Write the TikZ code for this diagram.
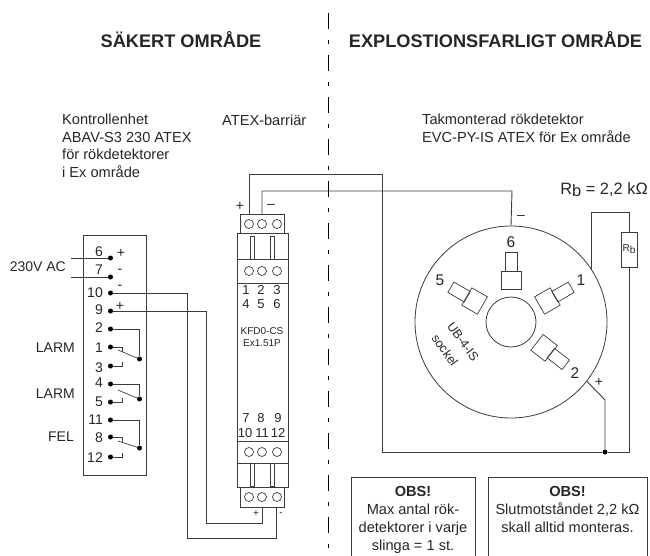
\documentclass[tikz,border=0pt]{standalone}
\usepackage{fontspec}
\setmainfont{Liberation Sans}
\usetikzlibrary{positioning,calc}
\definecolor{inkdark}{HTML}{262626}
\definecolor{wiregray}{HTML}{3C3C3C}
\newcommand{\fs}[1]{\fontsize{#1}{#1}\selectfont}
\tikzset{
    wire/.style={draw=wiregray, line width=0.9pt},
    thinwire/.style={draw=wiregray, line width=0.7pt},
    part/.style={draw=wiregray, line width=0.9pt, rectangle, inner sep=0pt, outer sep=0pt},
    term/.style={circle, fill=black, inner sep=0pt, minimum size=5pt},
    screw/.style={draw=wiregray, line width=0.7pt, circle, inner sep=0pt, minimum size=9pt},
    slot/.style={part, line width=0.7pt, minimum width=4pt, minimum height=23pt},
    txt/.style={text=inkdark, inner sep=0pt, font=\fs{14}},
    head/.style={text=inkdark, inner sep=0pt, font=\fs{18.2}\bfseries},
    small/.style={text=inkdark, inner sep=0pt, font=\fs{13}},
    block/.style={text=inkdark, inner sep=0pt, font=\fs{14.6}, align=left, anchor=west, execute at begin node={\baselineskip=17.8pt}},
    obsbox/.style={part, minimum height=100pt},
    obstext/.style={text=inkdark, inner sep=0pt, font=\fs{14.6}, align=center, execute at begin node={\baselineskip=18pt}},
}
\begin{document}
\begin{tikzpicture}[x=1pt, y=-1pt]

    \path[use as bounding box, clip] (0,0) rectangle (650,556);

    \node[head] (safeT) at (181,40) {SÄKERT OMRÅDE};
    \node[head] (exT) at (495.5,40) {EXPLOSTIONSFARLIGT OMRÅDE};

    \node[block, anchor=north west] (ctrlT) at (62,113.5) {Kontrollenhet\\ABAV-S3 230 ATEX\\för rökdetektorer\\i Ex område};
    \node[txt, font=\fs{14.6}, anchor=west] (barT) at (222,120) {ATEX-barriär};
    \node[block, anchor=north west] (detT) at (422,113.5) {Takmonterad rökdetektor\\EVC-PY-IS ATEX för Ex område};

    \coordinate (divA) at (328.5,13);
    \coordinate (divB) at (328.5,556);
    \draw[black, line width=1pt, dash pattern=on 16pt off 11pt on 4pt off 11pt] (divA) -- (divB);

    \node[part, minimum width=63pt, minimum height=240pt] (ctrl) at (114.5,355) {};

    \foreach \name/\ypos/\ylab in {6/258/252, 7/277/270, 10/293/293, 9/311/310, 2/329/328, 1/347/348,
        3/366/368, 4/384/383, 5/402/402, 11/420/420, 8/437/438, 12/457/458} {
        \node[term] (t\name) at (110.5,\ypos) {};
        \node[txt, anchor=east] (n\name) at (103,\ylab) {\name};
    }

    \node[txt] (s6) at (121,253) {+};
    \node[txt] (s7) at (120,271) {-};
    \node[txt] (s10) at (120,287) {-};
    \node[txt] (s9) at (120,306) {+};

    \node[txt, anchor=east] (acT) at (66,267) {230V AC};
    \node[txt, anchor=east] (larmA) at (75,348) {LARM};
    \node[txt, anchor=east] (larmB) at (75,394) {LARM};
    \node[txt, anchor=east] (felT) at (74,437) {FEL};

    \coordinate (in6) at (71,258);
    \coordinate (in7) at (71,277);
    \draw[wire] (in6) -- (t6);
    \draw[wire] (in7) -- (t7);

    \node[term] (ra) at (139.5,359) {};
    \node[term] (rb) at (139.5,399) {};
    \node[term] (rc) at (139.5,448) {};
    \coordinate (armA) at (118,350);
    \coordinate (armB) at (118,390);
    \coordinate (armC) at (118,441);
    \coordinate (k1) at (122,352);
    \coordinate (k3) at (122,362);
    \coordinate (k5) at (122,398);
    \coordinate (k8) at (122,443);
    \coordinate (k12) at (122,453);

    \draw[wire] (t2) -| (ra);
    \draw[wire] (t4) -| (rb);
    \draw[wire] (t11) -| (rc);
    \draw[thinwire] (armA) -- (ra);
    \draw[thinwire] (armB) -- (rb);
    \draw[thinwire] (armC) -- (rc);
    \draw[thinwire] (t1) -| (k1);
    \draw[thinwire] (t3) -| (k3);
    \draw[thinwire] (t5) -| (k5);
    \draw[thinwire] (t8) -| (k8);
    \draw[thinwire] (t12) -| (k12);

    \node[part, minimum width=51pt, minimum height=254pt] (bar) at (262.5,360) {};
    \node[part, minimum width=44pt, minimum height=19pt] (conT) at (262,223.5) {};
    \node[part, minimum width=44pt, minimum height=20pt] (conB) at (262,497) {};

    \foreach \name/\xpos in {a/249, b/262, c/277} {
        \node[screw] (ct\name) at (\xpos,224) {};
        \node[screw] (cu\name) at (\xpos,271) {};
        \node[screw] (cv\name) at (\xpos,452) {};
        \node[screw] (cw\name) at (\xpos,497) {};
    }
    \foreach \name/\xpos in {a/252, b/272} {
        \node[slot] (su\name) at (\xpos,247.5) {};
        \node[slot] (sv\name) at (\xpos,474.5) {};
    }

    \coordinate (lineA) at (237,259);
    \coordinate (lineB) at (237,283);
    \coordinate (lineC) at (237,441);
    \coordinate (lineD) at (237,463);
    \draw[wire] (lineA) -- (lineA -| bar.east);
    \draw[wire] (lineB) -- (lineB -| bar.east);
    \draw[wire] (lineC) -- (lineC -| bar.east);
    \draw[wire] (lineD) -- (lineD -| bar.east);

    \foreach \lab/\xpos/\ypos in {1/246/290, 2/261/290, 3/277/290, 4/246/304, 5/261/304, 6/277/304,
        7/246/418, 8/261/418, 9/278/418, 10/245/433, 11/262/433, 12/278/433} {
        \node[small] (m\lab) at (\xpos,\ypos) {\lab};
    }
    \node[txt, font=\fs{10}, align=center, execute at begin node={\baselineskip=11.5pt}] (barN) at (262,337) {KFD0-CS\\Ex1.51P};

    \node[txt] (pT) at (240,206) {+};
    \node[txt] (mT) at (271,206) {--};
    \node[txt, font=\fs{10}] (pB) at (256,514) {+};
    \node[txt, font=\fs{10}] (mB) at (281,514) {-};

    \coordinate (tp) at (249,214);
    \coordinate (tm) at (262,214);
    \coordinate (bp) at (262,507);
    \coordinate (bm) at (276,507);
    \coordinate (w9) at (206,523);
    \coordinate (w10) at (187,538);
    \coordinate (wp) at (382,174);
    \coordinate (wm) at (512,191);

    \draw[wire] (t9) -| (w9) -| (bp);
    \draw[wire] (t10) -| (w10) -| (bm);

    \node[draw=wiregray, line width=0.8pt, circle, inner sep=0pt, minimum size=192pt] (det) at (511,322) {};
    \node[draw=wiregray, line width=0.8pt, circle, inner sep=0pt, minimum size=50pt] (hub) at (511,322) {};

    \foreach \ang in {90,30,150,-38} {
        \node[part, line width=0.7pt, minimum width=18pt, minimum height=20pt, rotate=\ang] (big\ang) at ($(det.center)+(\ang:42pt)$) {};
        \node[part, line width=0.7pt, minimum width=19pt, minimum height=12pt, rotate=\ang] (tip\ang) at ($(det.center)+(\ang:60pt)$) {};
    }

    \node[txt, font=\fs{15.5}] (p6) at (511,242) {6};
    \node[txt, font=\fs{15.5}] (p5) at (440,280) {5};
    \node[txt, font=\fs{15.5}] (p1) at (581,280) {1};
    \node[txt, font=\fs{15.5}] (p2) at (575,373) {2};
    \node[txt, font=\fs{12.5}, rotate=-54.5] (ubT) at (463,342) {UB-4-IS};
    \node[txt, font=\fs{12.5}, rotate=-54.5] (sockT) at (445,350) {sockel};

    \node[txt] (mD) at (521,217) {--};
    \node[txt] (pD) at (599,382) {+};

    \node[term] (jn) at (605,452) {};
    \node[part, minimum width=16pt, minimum height=35pt, line width=0.8pt] (rbox) at (629,249.5) {};
    \node[txt, font=\fs{10}] (rbT) at (rbox) {R\raisebox{-2pt}{b}};
    \node[txt, font=\fs{16.4}, anchor=east] (rbL) at (648,190) {R\raisebox{-2pt}{b} = 2,2 kΩ};

    \coordinate (rtop) at (629,212);
    \coordinate (bend) at (605,400);

    \draw[wire] (tp) |- (wp) |- (jn);
    \draw[wire] (tm) |- (wm) -- (det.north);
    \draw[wire] (jn) -| (rbox.south);
    \draw[wire] (det.33) |- (rtop) -- (rbox.north);
    \draw[wire] (det.-38) -- (bend) -- (jn);

    \node[obsbox, minimum width=124pt] (obsA) at (413,527) {};
    \node[obsbox, minimum width=159pt] (obsB) at (567.5,527) {};
    \node[obstext, below=9pt of obsA.north] (obsAT) {\textbf{OBS!}\\Max antal rök-\\detektorer i varje\\slinga = 1 st.};
    \node[obstext, below=9pt of obsB.north] (obsBT) {\textbf{OBS!}\\Slutmotståndet 2,2 kΩ\\skall alltid monteras.};
\end{tikzpicture}
\end{document}
